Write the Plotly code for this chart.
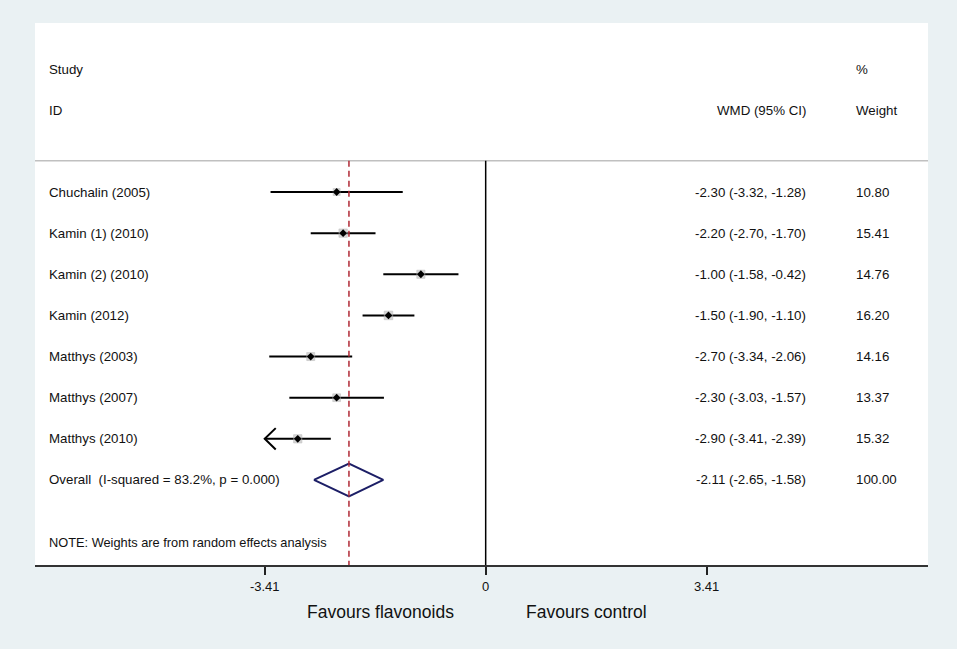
import plotly.graph_objects as go
import math

studies = ["Chuchalin (2005)", "Kamin (1) (2010)", "Kamin (2) (2010)", "Kamin (2012)",
           "Matthys (2003)", "Matthys (2007)", "Matthys (2010)"]
est = [-2.30, -2.20, -1.00, -1.50, -2.70, -2.30, -2.90]
lo = [-3.32, -2.70, -1.58, -1.90, -3.34, -3.03, -3.41]
hi = [-1.28, -1.70, -0.42, -1.10, -2.06, -1.57, -2.39]
weights = [10.80, 15.41, 14.76, 16.20, 14.16, 13.37, 15.32]
overall_label = "Overall  (I-squared = 83.2%, p = 0.000)"
overall_est, overall_lo, overall_hi, overall_w = -2.11, -2.65, -1.58, 100.00
tick_vals = [-3.41, 0, 3.41]
tick_text = ["-3.41", "0", "3.41"]
note = "NOTE: Weights are from random effects analysis"

FONT = "Liberation Sans, Arial, Helvetica, sans-serif"
BG = "#EAF1F3"
xmin = -3.41
n = len(studies)
rows = list(range(n))
y_over = n

fig = go.Figure()

# CI lines
cx, cy = [], []
for i in rows:
    cx += [max(lo[i], xmin), hi[i], None]
    cy += [i, i, None]
fig.add_trace(go.Scatter(x=cx, y=cy, mode="lines", line=dict(color="black", width=2),
                         hoverinfo="skip", showlegend=False))

# arrows for clipped CIs
ax, ay = [], []
for i in rows:
    if lo[i] <= xmin:
        ax += [xmin + 0.17, xmin, xmin + 0.17, None]
        ay += [i - 0.26, i, i + 0.26, None]
fig.add_trace(go.Scatter(x=ax, y=ay, mode="lines", line=dict(color="black", width=2),
                         hoverinfo="skip", showlegend=False))

# weight boxes
fig.add_trace(go.Scatter(x=est, y=rows, mode="markers",
                         marker=dict(symbol="square", size=[2.12 * math.sqrt(w) for w in weights],
                                     color="#C4C4C4", line=dict(color="#A8A8A8", width=0.6)),
                         hoverinfo="skip", showlegend=False))
# point estimates
fig.add_trace(go.Scatter(x=est, y=rows, mode="markers",
                         marker=dict(symbol="diamond", size=6, color="black"),
                         hoverinfo="skip", showlegend=False))

# overall diamond
h = 0.40
fig.add_trace(go.Scatter(x=[overall_lo, overall_est, overall_hi, overall_est, overall_lo],
                         y=[y_over, y_over - h, y_over, y_over + h, y_over],
                         mode="lines", line=dict(color="#1C1E66", width=2),
                         hoverinfo="skip", showlegend=False))

sep_y = -0.76
ybot = 9.067
ytop = -4.108

shapes = [
    dict(type="line", xref="paper", yref="y", x0=0, x1=1, y0=sep_y, y1=sep_y,
         line=dict(color="#C0C0C0", width=1.5)),
    dict(type="line", xref="x", yref="y", x0=0, x1=0, y0=sep_y, y1=ybot,
         line=dict(color="black", width=1.5)),
    dict(type="line", xref="x", yref="y", x0=overall_est, x1=overall_est, y0=sep_y, y1=ybot,
         line=dict(color="#B02A36", width=1.5, dash="6px,4px")),
]

x_lab = -6.77
x_es = 4.97
x_w = 5.69
ann = []
def txt(x, y, s, anchor, size=13.3, yref="y", xref="x"):
    ann.append(dict(x=x, y=y, xref=xref, yref=yref, text=s, showarrow=False,
                    xanchor=anchor, yanchor="middle",
                    font=dict(family=FONT, size=size, color="#111111")))

txt(x_lab, -2.966, "Study", "left")
txt(x_lab, -1.97, "ID", "left")
txt(x_es, -1.97, "WMD (95% CI)", "right")
txt(x_w, -2.966, "%", "left")
txt(x_w, -1.97, "Weight", "left")
for i in rows:
    txt(x_lab, i, studies[i], "left")
    txt(x_es, i, f"{est[i]:.2f} ({lo[i]:.2f}, {hi[i]:.2f})", "right")
    txt(x_w, i, f"{weights[i]:.2f}", "left")
txt(x_lab, y_over, overall_label, "left")
txt(x_es, y_over, f"{overall_est:.2f} ({overall_lo:.2f}, {overall_hi:.2f})", "right")
txt(x_w, y_over, f"{overall_w:.2f}", "left")
txt(x_lab, 8.53, note, "left", size=12.8)

txt(-1.63, -0.0867, "Favours flavonoids", "center", size=17.5, yref="paper")
txt(1.55, -0.0867, "Favours control", "center", size=17.5, yref="paper")

fig.update_layout(
    width=957, height=649,
    margin=dict(l=35, r=29, t=23, b=84),
    paper_bgcolor=BG, plot_bgcolor="white",
    shapes=shapes, annotations=ann, showlegend=False,
    xaxis=dict(range=[-6.955, 6.826], showgrid=False, zeroline=False,
               tickvals=tick_vals, ticktext=tick_text, ticks="outside", ticklen=8,
               tickwidth=1.5, tickcolor="#222222", showline=True, linecolor="#333333",
               linewidth=2, tickfont=dict(family=FONT, size=13, color="#111111"),
               fixedrange=True),
    yaxis=dict(range=[ybot, ytop], showgrid=False, zeroline=False, showticklabels=False,
               showline=False, ticks="", fixedrange=True),
)

fig.write_html("out.html", config={"displayModeBar": False},
               post_script="document.body.style.margin='0';document.body.style.background='%s';" % BG)
